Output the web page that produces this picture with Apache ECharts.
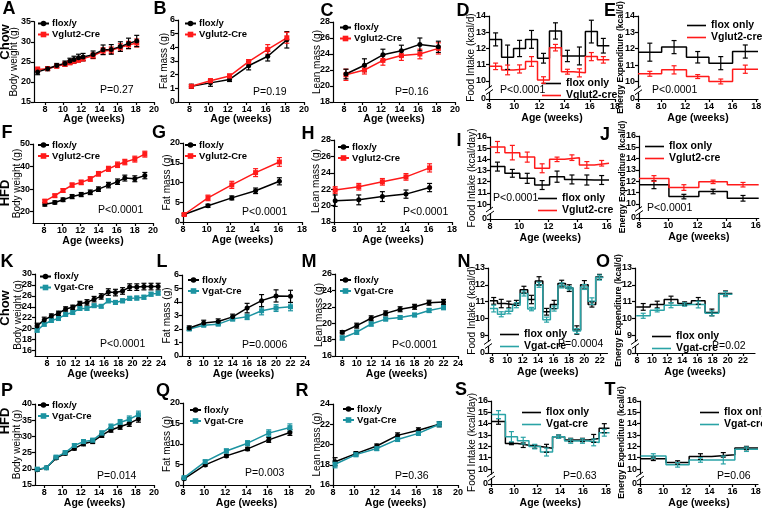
<!DOCTYPE html>
<html><head><meta charset="utf-8">
<script src="https://cdn.jsdelivr.net/npm/echarts@6/dist/echarts.min.js"></script>
<style>html,body{margin:0;padding:0;background:#fff}#c{width:762px;height:510px}</style>
</head><body><div id="c"></div>
<script>
// ================= DATA =================
// Tick labels
const xT20=[8,10,12,14,16,18,20];
const xT18=[8,10,12,14,16,18];
const xT16=[8,10,12,14,16];
const xT24=[8,10,12,14,16,18,20,22,24];
const xT22=[8,10,12,14,16,18,20,22];
const yTBW35=[15,20,25,30,35];
const yTFat6=[0,1,2,3,4,5,6];
const yTLean28=[18,20,22,24,26,28];
const yTFI14=[10,11,12,13,14];
const yTBW50=[20,30,40,50];
const yTFat20=[0,5,10,15,20];
const yTFI16=[10,11,12,13,14,15,16];
const yTBW30=[16,18,20,22,24,26,28,30];
const yTLean26=[16,18,20,22,24,26];
const yTFI13=[9,10,11,12,13];
const yTBW40=[15,20,25,30,35,40];
const yTLean24=[16,18,20,22,24];

// A: Chow Vglut2 body weight
const aWeeks=[7.2,8.3,9.3,10.2,10.75,11.2,11.7,12.2,13.3,14.4,15.3,16.3,17.2,18.1];
const aFlox=[22.5,23.3,24.1,24.6,25.2,25.6,26.0,26.2,26.8,28.0,28.1,28.8,29.6,30.2];
const aFloxErr=[0.7,0.5,0.5,0.6,0.7,0.8,0.9,0.9,0.9,1.2,1.2,1.2,1.3,1.4];
const aCre=[23.1,23.3,23.9,24.4,24.8,25.2,25.5,25.8,26.5,27.7,27.9,28.6,29.2,29.7];
const aCreErr=[0.6,0.4,0.4,0.5,0.5,0.6,0.6,0.6,0.7,0.8,0.8,0.9,0.9,1.0];
// B: fat mass
const bWeeks=[8.2,10.2,12.2,14.2,16.2,18.2];
const bFlox=[1.15,1.4,1.65,2.65,3.35,4.55];
const bFloxErr=[0.15,0.25,0.15,0.3,0.35,0.6];
const bCre=[1.15,1.55,1.9,2.95,3.85,4.7];
const bCreErr=[0.1,0.15,0.15,0.15,0.35,0.4];
// C: lean mass
const cWeeks=[8.2,10.2,12.2,14.2,16.2,18.2];
const cFlox=[21.5,22.6,23.9,24.4,25.2,24.9];
const cFloxErr=[0.6,0.8,0.7,0.7,0.8,0.7];
const cCre=[21.4,22.0,23.2,23.8,24.0,24.7];
const cCreErr=[0.7,0.5,0.6,0.6,0.6,0.7];
// D: food intake (bins)
const dEdges=[8.05,9.0,9.95,10.9,11.85,12.8,13.75,14.7,15.65,16.6,17.55];
const dFlox=[12.56,11.46,12.0,12.56,11.4,13.08,11.54,11.54,13.04,12.17];
const dFloxErr=[0.4,0.75,0.5,0.55,0.3,0.5,0.35,0.55,0.7,0.45];
const dCre=[10.9,10.68,10.74,11.2,10.06,12.05,10.57,10.5,11.5,11.3];
const dCreErr=[0.2,0.3,0.25,0.3,0.2,0.2,0.15,0.25,0.25,0.2];
// E: energy expenditure (bins)
const eEdges=[8,10,12.1,14,16,18.15];
const eFlox=[11.79,12.1,11.48,11.12,11.83];
const eFloxErr=[0.55,0.4,0.35,0.4,0.4];
const eCre=[10.47,10.71,10.3,10.0,10.75];
const eCreErr=[0.15,0.25,0.12,0.15,0.25];
// F: HFD Vglut2 body weight
const fWeeks=[8.1,9.2,10.1,11.1,12.1,13.1,14.0,15.1,16.1,16.9,18.0,19.1];
const fFlox=[23.3,24.1,25.3,26.7,27.6,28.6,30.0,31.8,33.3,34.9,34.6,36.0];
const fFloxErr=[0.8,0.7,0.8,0.9,0.9,1.0,1.0,1.2,1.2,1.3,1.3,1.4];
const fCre=[24.7,27.1,29.4,31.8,33.0,34.5,36.8,39.0,40.8,42.0,43.3,45.5];
const fCreErr=[0.6,0.7,0.8,0.9,1.0,1.0,1.0,1.1,1.2,1.2,1.3,1.3];
// G
const gWeeks=[8.1,10.1,12.1,14.1,16.1];
const gFlox=[1.9,4.1,6.1,7.9,10.3];
const gFloxErr=[0.3,0.4,0.5,0.7,0.9];
const gCre=[1.9,6.1,9.4,12.5,15.2];
const gCreErr=[0.3,0.7,0.9,1.0,1.1];
// H
const hWeeks=[8.1,10.1,12.1,14.1,16.1];
const hFlox=[20.6,20.7,21.1,21.4,22.2];
const hFloxErr=[0.7,0.6,0.6,0.5,0.5];
const hCre=[21.9,22.3,22.9,23.5,24.6];
const hCreErr=[0.4,0.4,0.4,0.4,0.5];
// I
const iEdges=[8.0,9.02,10.04,11.06,12.08,13.1,14.12,15.14,16.15];
const iFlox=[13.35,12.75,12.3,11.7,12.45,12.2,12.15,12.15];
const iFloxErr=[0.4,0.35,0.45,0.4,0.5,0.4,0.45,0.4];
const iCre=[15.1,14.6,14.2,13.2,14.0,14.15,13.5,13.65];
const iCreErr=[0.5,0.65,0.45,0.4,0.2,0.25,0.3,0.25];
// J
const jEdges=[8,10.05,12.1,14.05,16.2];
const jFlox=[11.7,10.65,11.1,10.5];
const jFloxErr=[0.35,0.2,0.2,0.25];
const jCre=[12.25,11.45,11.95,11.7];
const jCreErr=[0.25,0.25,0.15,0.2];
// K: Chow Vgat body weight
const kWeeks=[6.6,7.6,8.6,9.6,10.6,11.6,12.6,13.6,14.6,15.6,16.6,17.6,18.6,19.6,20.6,21.6,22.6,23.6];
const kFlox=[20.5,21.6,22.3,22.8,23.6,23.9,24.6,24.8,25.4,25.9,26.7,26.6,26.9,27.6,27.6,27.7,27.7,27.7];
const kFloxErr=[0.5,0.5,0.4,0.4,0.4,0.4,0.4,0.5,0.5,0.5,0.6,0.6,0.6,0.6,0.6,0.6,0.6,0.6];
const kCre=[19.7,20.8,21.5,21.85,22.6,22.95,23.7,23.7,24.2,24.1,25.1,24.8,25.1,25.55,25.6,25.75,26.3,26.5];
const kCreErr=[0.3,0.3,0.3,0.3,0.3,0.3,0.3,0.3,0.3,0.3,0.35,0.35,0.35,0.35,0.35,0.35,0.35,0.35];
// L
const lWeeks=[8,10,12,14,16,18,20,22];
const lFlox=[2.08,2.45,2.55,2.9,3.55,4.1,4.45,4.42];
const lFloxErr=[0.15,0.2,0.2,0.2,0.35,0.45,0.45,0.45];
const lCre=[2.0,2.28,2.36,2.75,2.9,3.35,3.55,3.65];
const lCreErr=[0.1,0.1,0.1,0.15,0.2,0.3,0.25,0.3];
// M
const mWeeks=[8,10,12,14,16,18,20,22];
const mFlox=[18.9,19.7,20.6,21.2,21.7,22.0,22.5,22.6];
const mFloxErr=[0.2,0.3,0.3,0.3,0.3,0.3,0.3,0.3];
const mCre=[18.2,18.9,19.9,20.5,20.7,21.0,21.55,21.9];
const mCreErr=[0.25,0.25,0.25,0.2,0.2,0.2,0.25,0.25];
// N
const nEdges=[7.75,8.73,9.71,10.69,11.67,12.65,13.63,14.61,15.59,16.57,17.55,18.53,19.51,20.49,21.47,22.45];
const nFlox=[11.04,10.88,10.82,10.92,11.71,11.12,12.23,10.39,10.82,12.07,11.8,9.3,12.0,10.82,12.47];
const nFloxErr=[0.2,0.25,0.2,0.15,0.2,0.25,0.25,0.2,0.25,0.2,0.2,0.25,0.25,0.15,0.15];
const nCre=[10.58,10.24,10.42,10.78,11.48,10.55,12.0,9.92,10.58,11.96,11.8,9.24,11.87,11.02,12.43];
const nCreErr=[0.2,0.15,0.15,0.15,0.15,0.1,0.15,0.15,0.15,0.15,0.1,0.15,0.15,0.2,0.15];
// O
const oEdges=[7.9,9.75,11.6,13.4,15.2,17.0,18.8,20.6];
const oFlox=[10.68,10.82,11.12,10.88,11.04,10.35,11.48];
const oFloxErr=[0.2,0.2,0.2,0.1,0.2,0.2,0.15];
const oCre=[10.15,10.48,10.78,10.82,10.82,10.3,11.44];
const oCreErr=[0.15,0.1,0.15,0.1,0.2,0.15,0.15];
// P: HFD Vgat body weight
const pWeeks=[7.25,8.25,9.3,10.3,11.3,12.3,13.3,14.3,15.3,16.3,17.3,18.3];
const pFlox=[19.7,20.3,23.3,24.7,26.3,27.7,28.4,30.3,32.0,33.0,34.0,35.4];
const pFloxErr=[0.4,0.3,0.4,0.4,0.5,0.6,0.6,0.6,0.7,0.8,0.9,1.0];
const pCre=[19.9,20.3,23.6,25.0,27.2,28.4,28.8,31.0,33.0,34.3,35.3,36.7];
const pCreErr=[0.4,0.3,0.5,0.5,0.5,0.6,0.6,0.7,0.8,0.9,1.0,1.1];
// Q
const qWeeks=[8.1,10.1,12.1,14.1,16.1,18.1];
const qFlox=[1.5,4.9,7.1,8.8,11.0,12.8];
const qFloxErr=[0.2,0.3,0.3,0.4,0.6,0.7];
const qCre=[1.8,5.7,8.3,10.2,12.65,14.0];
const qCreErr=[0.2,0.35,0.5,0.6,0.8,0.9];
// R
const rWeeks=[8.2,10.2,12.2,14.2,16.2,18.2];
const rFlox=[18.3,19.1,19.85,20.9,21.4,22.0];
const rFloxErr=[0.4,0.2,0.2,0.25,0.25,0.25];
const rCre=[18.05,19.0,19.6,20.5,21.1,22.0];
const rCreErr=[0.35,0.2,0.2,0.2,0.2,0.25];
// S
const sEdges=[8.05,9.25,10.3,11.3,12.3,13.35,14.4,15.45,16.45,17.4,18.3];
const sFlox=[14.2,12.25,12.1,11.98,11.83,12.85,12.56,12.56,12.7,13.6];
const sFloxErr=[0.25,0.1,0.2,0.15,0.35,0.15,0.15,0.15,0.35,0.4];
const sCre=[14.8,12.85,12.5,11.98,11.5,12.85,12.47,12.47,12.35,13.2];
const sCreErr=[0.35,0.45,0.3,0.2,0.35,0.15,0.2,0.2,0.3,0.3];
// T
const tEdges=[8.05,10.25,12.25,14.2,16.2,18.2];
const tFlox=[10.9,10.58,11.1,11.25,11.85];
const tFloxErr=[0.15,0.15,0.25,0.2,0.15];
const tCre=[11.15,10.37,10.8,10.8,11.75];
const tCreErr=[0.2,0.2,0.2,0.35,0.2];

// ================= STYLE / LAYOUT =================
const FN="'Liberation Sans Narrow','Liberation Sans',Arial,sans-serif";
const FS="'Liberation Sans',Arial,sans-serif";
const BLACK='#000', RED='#ff1a1a', TEAL='#1c93a1', TEAL2='#2aa3a6';

const LAYOUT=[
 {id:'A',g:[34,21.7,120,80.3],x:[6.8,20],xt:xT20,y:[15,35],yt:yTBW35,yn:'Body weight (g)',yg:14.5,xg:11.5},
 {id:'B',g:[178,20,126,82],x:[6.8,20],xt:xT20,y:[0,6],yt:yTFat6,yn:'Fat mass (g)',yg:8.5,xg:11.5},
 {id:'C',g:[333,22,122,80],x:[6.8,20],xt:xT20,y:[18,28],yt:yTLean28,yn:'Lean mass (g)',yg:10.5,xg:11.5},
 {id:'D',g:[489,16,126,83],x:[8,18],xt:xT18,y:[8.89,14],yt:yTFI14,brk:true,yn:'Food Intake (kcal/d)',yg:12.5,xg:14},
 {id:'E',g:[638,16,120,83],x:[8,18.15],xt:xT18,y:[8.93,14],yt:yTFI14,brk:true,yn:'Energy Expenditure (kcal/d)',yg:12.5,ys:8.5,xg:14},
 {id:'F',g:[33,144,120,79],x:[6.8,20],xt:xT20,y:[15,50],yt:yTBW50,yn:'Body weight (g)',yg:10.5,xg:13},
 {id:'G',g:[183,143,119,79],x:[8,18],xt:xT18,y:[0,20],yt:yTFat20,yn:'Fat mass (g)',yg:11,xg:13},
 {id:'H',g:[334,140,118,82],x:[8,18],xt:xT18,y:[18,28],yt:yTLean28,yn:'Lean mass (g)',yg:12.5,xg:13},
 {id:'I',g:[490,137,120.5,82],x:[8,16.25],xt:xT16,y:[8.66,16],yt:yTFI16,brk:true,yn:'Food Intake (kcal/day)',yg:12.5,xg:14},
 {id:'J',g:[639,136,119.7,82],x:[8,16.2],xt:xT16,y:[8.76,16],yt:yTFI16,brk:true,yn:'Energy Expenditure (kcal/d)',yg:11.5,ys:8.5,xg:14},
 {id:'K',g:[35,274,126,82],x:[6.3,24],xt:xT24,y:[15,30],yt:yTBW30,yn:'Body weight (g)',yg:11.5,xg:13},
 {id:'L',g:[182,275,123,81],x:[7,24],xt:xT24,y:[0,6],yt:yTFat6,yn:'Fat mass (g)',yg:9.5,xg:13},
 {id:'M',g:[335,274,123,82],x:[7,24],xt:xT24,y:[16,26],yt:yTLean26,yn:'Lean mass (g)',yg:10.5,xg:13},
 {id:'N',g:[488,268,119.5,85],x:[7.5,23],xt:xT22,y:[7.93,13],yt:yTFI13,brk:true,yn:'Food Intake (kcal/d)',yg:11,xg:14},
 {id:'O',g:[635,268,120,85],x:[7.74,23.6],xt:xT22,y:[7.93,13],yt:yTFI13,brk:true,yn:'Energy Expenditure (kcal/d)',yg:12,ys:8.5,xg:14},
 {id:'P',g:[35,404,119,81],x:[7,20],xt:xT20,y:[15,40],yt:yTBW40,yn:'Body weight (g)',yg:13,xg:13},
 {id:'Q',g:[183,403,127,82],x:[8,20],xt:xT20,y:[0,20],yt:yTFat20,yn:'Fat mass (g)',yg:10.5,xg:13},
 {id:'R',g:[333,404,125,81],x:[8,20],xt:xT20,y:[16,24],yt:yTLean24,yn:'Lean mass (g)',yg:10.5,xg:13},
 {id:'S',g:[491,401,118.5,83],x:[8,18.3],xt:xT18,y:[8.68,16],yt:yTFI16,brk:true,yn:'Food Intake (kcal/day)',yg:13.5,xg:14},
 {id:'T',g:[640,401,118,83],x:[8,18.2],xt:xT18,y:[8.68,16],yt:yTFI16,brk:true,yn:'Energy Expenditure (kcal/d)',yg:14,ys:8.5,xg:14}
];

const grids=[],xAxes=[],yAxes=[],series=[];
LAYOUT.forEach((p,gi)=>{
  grids.push({left:p.g[0],top:p.g[1],width:p.g[2],height:p.g[3],containLabel:false,outerBoundsMode:'none'});
  const ax={color:'#000',width:1.2};
  xAxes.push({type:'value',gridIndex:gi,min:p.x[0],max:p.x[1],
    axisLine:{show:true,onZero:false,lineStyle:ax},
    axisTick:{show:true,length:3,customValues:p.xt,lineStyle:ax},
    axisLabel:{show:true,customValues:p.xt,margin:3,fontSize:9,fontWeight:'bold',fontFamily:FN,color:'#000'},
    splitLine:{show:false},
    name:'Age (weeks)',nameLocation:'middle',nameGap:p.xg,nameMoveOverlap:false,
    nameTextStyle:{fontSize:10.5,fontWeight:'bold',fontFamily:FN,color:'#000'}});
  const yt=p.brk?[p.y[0]].concat(p.yt):p.yt;
  const zero=p.y[0];
  yAxes.push({type:'value',gridIndex:gi,min:p.y[0],max:p.y[1],
    axisLine:{show:true,onZero:false,lineStyle:ax},
    axisTick:{show:true,length:3,customValues:yt,lineStyle:ax},
    axisLabel:{show:true,customValues:yt,margin:3,fontSize:9,fontWeight:'bold',fontFamily:FN,color:'#000',
      formatter:(v)=>(p.brk&&Math.abs(v-zero)<1e-6)?'0':String(v)},
    splitLine:{show:false},
    name:p.yn,nameLocation:'middle',nameGap:p.yg,nameMoveOverlap:false,
    nameTextStyle:{fontSize:p.ys||10,fontWeight:p.ys?'bold':'normal',fontFamily:FS,color:'#000'}});
  if(p.brk){
    const yb=p.y[0]+((p.yt[0])-p.y[0])*0.5;
    series.push({type:'custom',xAxisIndex:gi,yAxisIndex:gi,silent:true,z:20,data:[[p.x[0],yb]],
      renderItem:(pr,api)=>{const c=api.coord([api.value(0),api.value(1)]);
        const st={stroke:'#000',lineWidth:1};
        return {type:'group',children:[
          {type:'rect',shape:{x:c[0]-2,y:c[1]-2,width:4,height:4},style:{fill:'#fff'}},
          {type:'line',shape:{x1:c[0]-4,y1:c[1]+0.5,x2:c[0]+3,y2:c[1]-4.5},style:st},
          {type:'line',shape:{x1:c[0]-3,y1:c[1]+4.5,x2:c[0]+4,y2:c[1]-0.5},style:st}]};}});
  }
});

function errRender(color,cap){
  return function(params,api){
    const x=api.value(0),y=api.value(1),e=api.value(2);
    const a=api.coord([x,y+e]),b=api.coord([x,y-e]);
    const st={stroke:color,lineWidth:1.2};
    return {type:'group',children:[
      {type:'line',shape:{x1:a[0],y1:a[1],x2:b[0],y2:b[1]},style:st},
      {type:'line',shape:{x1:a[0]-cap,y1:a[1],x2:a[0]+cap,y2:a[1]},style:st},
      {type:'line',shape:{x1:b[0]-cap,y1:b[1],x2:b[0]+cap,y2:b[1]},style:st}]};
  };
}
function addLine(gi,name,xs,ys,es,color,sym){
  series.push({type:'custom',xAxisIndex:gi,yAxisIndex:gi,silent:true,z:2,
    data:xs.map((x,i)=>[x,ys[i],es[i]]),renderItem:errRender(color,2.5)});
  series.push({type:'line',name,xAxisIndex:gi,yAxisIndex:gi,data:xs.map((x,i)=>[x,ys[i]]),
    symbol:sym,symbolSize:5,showSymbol:true,lineStyle:{color,width:1.5},itemStyle:{color},
    emphasis:{disabled:true},z:3});
}
function addStep(gi,name,edges,levels,errs,color){
  const d=levels.map((v,i)=>[edges[i],v]);
  d.push([edges[edges.length-1],levels[levels.length-1]]);
  series.push({type:'line',name,xAxisIndex:gi,yAxisIndex:gi,data:d,step:'end',symbol:'none',
    lineStyle:{color,width:1.5},itemStyle:{color},emphasis:{disabled:true},z:3});
  series.push({type:'custom',xAxisIndex:gi,yAxisIndex:gi,silent:true,z:4,
    data:levels.map((v,i)=>[(edges[i]+edges[i+1])/2,v,errs[i]]),renderItem:errRender(color,2.5)});
}

// row 1
addLine(0,'Vglut2-Cre',aWeeks,aCre,aCreErr,RED,'rect');  addLine(0,'flox/y',aWeeks,aFlox,aFloxErr,BLACK,'circle');
addLine(1,'flox/y',bWeeks,bFlox,bFloxErr,BLACK,'circle'); addLine(1,'Vglut2-Cre',bWeeks,bCre,bCreErr,RED,'rect');
addLine(2,'Vglut2-Cre',cWeeks,cCre,cCreErr,RED,'rect');  addLine(2,'flox/y',cWeeks,cFlox,cFloxErr,BLACK,'circle');
addStep(3,'flox only',dEdges,dFlox,dFloxErr,BLACK); addStep(3,'Vglut2-cre',dEdges,dCre,dCreErr,RED);
addStep(4,'flox only',eEdges,eFlox,eFloxErr,BLACK); addStep(4,'Vglut2-cre',eEdges,eCre,eCreErr,RED);
// row 2
addLine(5,'flox/y',fWeeks,fFlox,fFloxErr,BLACK,'circle'); addLine(5,'Vglut2-Cre',fWeeks,fCre,fCreErr,RED,'rect');
addLine(6,'flox/y',gWeeks,gFlox,gFloxErr,BLACK,'circle'); addLine(6,'Vglut2-Cre',gWeeks,gCre,gCreErr,RED,'rect');
addLine(7,'flox/y',hWeeks,hFlox,hFloxErr,BLACK,'circle'); addLine(7,'Vglut2-Cre',hWeeks,hCre,hCreErr,RED,'rect');
addStep(8,'flox only',iEdges,iFlox,iFloxErr,BLACK); addStep(8,'Vglut2-cre',iEdges,iCre,iCreErr,RED);
addStep(9,'flox only',jEdges,jFlox,jFloxErr,BLACK); addStep(9,'Vglut2-cre',jEdges,jCre,jCreErr,RED);
// row 3
addLine(10,'Vgat-Cre',kWeeks,kCre,kCreErr,TEAL,'rect'); addLine(10,'flox/y',kWeeks,kFlox,kFloxErr,BLACK,'circle');
addLine(11,'Vgat-Cre',lWeeks,lCre,lCreErr,TEAL,'rect'); addLine(11,'flox/y',lWeeks,lFlox,lFloxErr,BLACK,'circle');
addLine(12,'Vgat-Cre',mWeeks,mCre,mCreErr,TEAL,'rect'); addLine(12,'flox/y',mWeeks,mFlox,mFloxErr,BLACK,'circle');
addStep(13,'flox only',nEdges,nFlox,nFloxErr,BLACK); addStep(13,'Vgat-cre',nEdges,nCre,nCreErr,TEAL2);
addStep(14,'flox only',oEdges,oFlox,oFloxErr,BLACK); addStep(14,'Vgat-cre',oEdges,oCre,oCreErr,TEAL2);
// row 4
addLine(15,'flox/y',pWeeks,pFlox,pFloxErr,BLACK,'circle'); addLine(15,'Vgat-Cre',pWeeks,pCre,pCreErr,TEAL,'rect');
addLine(16,'flox/y',qWeeks,qFlox,qFloxErr,BLACK,'circle'); addLine(16,'Vgat-Cre',qWeeks,qCre,qCreErr,TEAL,'rect');
addLine(17,'flox/y',rWeeks,rFlox,rFloxErr,BLACK,'circle'); addLine(17,'Vgat-Cre',rWeeks,rCre,rCreErr,TEAL,'rect');
addStep(18,'flox only',sEdges,sFlox,sFloxErr,BLACK); addStep(18,'Vgat-cre',sEdges,sCre,sCreErr,TEAL2);
addStep(19,'flox only',tEdges,tFlox,tFloxErr,BLACK); addStep(19,'Vgat-cre',tEdges,tCre,tCreErr,TEAL2);

function legLine(left,top,names){return {left,top,orient:'vertical',padding:0,itemGap:1,itemWidth:11,itemHeight:7,selectedMode:false,data:names,
  textStyle:{fontSize:9.5,fontWeight:'bold',fontFamily:FN,color:'#000',padding:[0,0,0,-2]}};}
function legStep(left,top,names){return {left,top,orient:'vertical',padding:0,itemGap:1,itemWidth:19,itemHeight:1.6,icon:'rect',selectedMode:false,data:names,
  textStyle:{fontSize:10.5,fontWeight:'bold',fontFamily:FN,color:'#000'}};}
const V1=['flox/y','Vglut2-Cre'],V2=['flox/y','Vgat-Cre'],S1=['flox only','Vglut2-cre'],S2=['flox only','Vgat-cre'];
const legends=[
  legLine(37,18.5,V1),legLine(184,18.5,V1),legLine(339,22.5,V1),legStep(542,78,S1),legStep(687,20,S1),
  legLine(37,140,V1),legLine(184,140,V1),legLine(337,142,V1),legStep(538,193,S1),legStep(645,141,S1),
  legLine(39,271.5,V2),legLine(187,275,V2),legLine(339,275,V2),legStep(500,329,S2),legStep(652,331,S2),
  legLine(37,400,V2),legLine(189,405,V2),legLine(342,404,V2),legStep(522,407,S2),legStep(700,407,S2)
];

// annotations
const letters=[['A',9,9],['B',160,9],['C',327,11],['D',463,11],['E',610,11],
  ['F',7,133],['G',159,133],['H',308,134],['I',459,141],['J',605,135],
  ['K',7,262],['L',162,262],['M',309,262],['N',464,262],['O',603,262],
  ['P',7,391],['Q',163,391],['R',302,391],['S',461,390],['T',610,390]];
const rowLabels=[['Chow',5,42],['HFD',5,193],['Chow',5,308],['HFD',5,421]];
const pvals=[['P=0.27',100,90],['P=0.19',253,92],['P=0.16',395,92],['P<0.0001',500,90],['P<0.0001',652,90],
  ['P<0.0001',98,210],['P<0.0001',242,212],['P<0.0001',403,212],['P<0.0001',493,198],['P<0.0001',647,208],
  ['P<0.0001',100,344],['P=0.0006',242,345],['P<0.0001',392,345],['P=0.0004',558,344],['P=0.02',712,346],
  ['P=0.014',97,476],['P=0.003',245,473],['P=0.36',395,476],['P=0.63',563,476],['P=0.06',717,476]];
const graphic=[];
letters.forEach(([t,x,y])=>graphic.push({type:'text',x,y,style:{text:t,fontSize:18,fontWeight:'bold',fontFamily:FS,fill:'#000',align:'center',verticalAlign:'middle'}}));
rowLabels.forEach(([t,x,y])=>graphic.push({type:'text',x,y,rotation:Math.PI/2,style:{text:t,fontSize:13,fontWeight:'bold',fontFamily:FS,fill:'#000',align:'center',verticalAlign:'middle'}}));
pvals.forEach(([t,x,y])=>graphic.push({type:'text',x,y,style:{text:t,fontSize:10.5,fontFamily:FN,fill:'#000',align:'left',verticalAlign:'middle'}}));

const chart=echarts.init(document.getElementById('c'),null,{renderer:'canvas'});
chart.setOption({animation:false,backgroundColor:'#fff',grid:grids,xAxis:xAxes,yAxis:yAxes,legend:legends,series,graphic,tooltip:{show:false}});
</script></body></html>
